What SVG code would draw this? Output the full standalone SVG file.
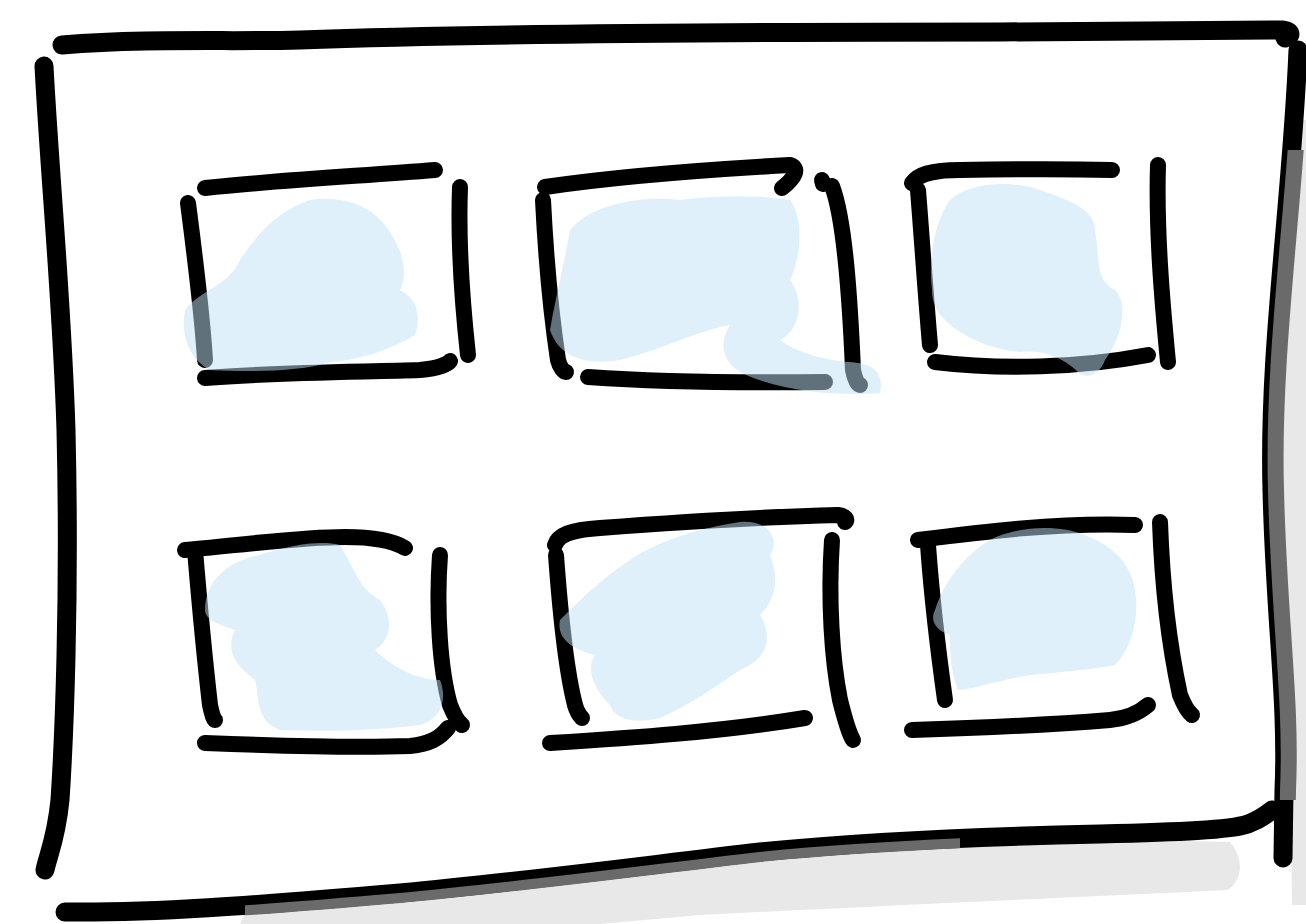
<svg xmlns="http://www.w3.org/2000/svg" width="1306" height="924" viewBox="0 0 1306 924">
<style>
.ln{fill:none;stroke:#000;stroke-width:16;stroke-linecap:round;stroke-linejoin:round}
.fr{stroke-width:19}
.blob{fill:#bfe1f5;opacity:0.5}
.sh1{fill:#e8e8e8}
.sh2{fill:none;stroke:#6a6a6a}
</style>
<defs>
<clipPath id="clipR"><rect x="1240" y="150" width="66" height="650"/></clipPath>
<clipPath id="clipB"><rect x="245" y="780" width="715" height="144"/></clipPath>
</defs>
<rect width="1306" height="924" fill="#fff"/>
<g id="shadow-light">
<path class="sh1" d="M1296,120 C1290,250 1278,380 1280,500 C1282,650 1292,800 1292,905 L1306,905 L1306,120 Z"/>
<path class="sh1" d="M245,912 C400,898 620,872 800,852 C950,840 1100,838 1230,842 C1245,860 1242,880 1228,890 C1100,896 900,905 700,915 L600,924 L240,924 Z"/>
</g>
<g id="frame">
<path class="ln fr" d="M62,45 C150,38 230,42 300,40 C500,33 800,32 1000,32 C1150,31 1250,30 1282,30 C1292,31 1292,36 1285,38"/>
<path class="ln fr" d="M44,66 C50,180 62,300 66,430 C70,600 64,740 60,800 C56,840 48,855 45,870"/>
<path class="ln fr" d="M1298,50 C1292,200 1268,350 1272,490 C1275,620 1288,700 1284,790 L1283,858"/>
<path class="ln fr" d="M65,912 C150,913 250,906 400,893 C520,882 640,866 760,852 C880,840 1000,836 1100,834 C1180,832 1230,830 1248,824 C1258,820 1266,815 1272,810"/>
</g>
<g id="shadow-dark">
<path class="sh2" stroke-width="16" clip-path="url(#clipR)" transform="translate(4,0)" d="M1298,50 C1292,200 1268,350 1272,490 C1275,620 1288,700 1284,790 L1283,858"/>
<path class="sh2" stroke-width="10" clip-path="url(#clipB)" transform="translate(0,5)" d="M65,912 C150,913 250,906 400,893 C520,882 640,866 760,852 C880,840 1000,836 1100,834"/>
</g>
<g id="box1">
<path class="ln" d="M205,188 C280,180 360,176 435,170"/>
<path class="ln" d="M188,203 C194,250 202,310 205,360"/>
<path class="ln" d="M460,187 C458,240 462,300 468,355"/>
<path class="ln" d="M205,378 C280,372 360,372 420,370 C440,368 448,364 450,361"/>
<path class="blob" d="M185,310 C200,290 230,285 240,260 C260,230 280,210 310,200 C340,195 370,205 385,225 C400,245 410,270 400,290 C420,300 420,320 415,335 C390,350 360,360 330,362 C300,372 250,372 210,370 C190,360 180,335 185,310 Z"/>
</g>
<g id="box2">
<path class="ln" d="M545,187 C620,176 700,170 790,165 C800,168 795,178 782,188"/>
<path class="ln" d="M543,200 C546,260 552,320 558,360 C560,368 564,372 566,372"/>
<path class="ln" d="M822,180 L823,184"/>
<path class="ln" d="M832,186 C845,220 850,300 853,370 C855,380 858,385 860,385"/>
<path class="ln" d="M588,377 C660,382 740,383 825,382"/>
<path class="blob" d="M550,330 C555,300 565,260 570,230 C590,205 640,195 680,200 C720,195 760,195 790,200 C805,220 800,260 790,280 C805,300 800,330 780,340 C800,355 830,360 845,362 C870,362 885,370 880,393 C840,396 780,392 740,372 C720,360 720,340 730,325 C700,330 660,350 620,360 C590,365 560,360 550,330 Z"/>
</g>
<g id="box3">
<path class="ln" d="M912,183 C918,175 930,170 960,170 C1020,169 1070,169 1112,170"/>
<path class="ln" d="M918,190 C922,240 926,300 930,345"/>
<path class="ln" d="M1158,165 C1156,230 1162,300 1168,362"/>
<path class="ln" d="M935,362 C1000,370 1080,368 1148,355"/>
<path class="blob" d="M932,290 C928,260 935,220 950,200 C970,182 1010,180 1040,190 C1070,200 1095,210 1095,230 C1100,260 1095,280 1115,290 C1130,305 1120,340 1105,360 C1100,375 1085,380 1078,372 C1060,355 1040,350 1020,352 C990,350 960,335 945,320 C935,310 932,300 932,290 Z"/>
</g>
<g id="box4">
<path class="ln" d="M185,550 C240,545 300,537 345,537 C375,537 395,542 405,548"/>
<path class="ln" d="M195,550 C200,610 206,670 210,705 C212,715 214,720 215,720"/>
<path class="ln" d="M440,555 C436,610 440,670 450,705 C454,715 458,722 462,725"/>
<path class="ln" d="M205,743 C280,746 360,748 410,746 C430,744 440,738 448,728"/>
<path class="blob" d="M205,610 C205,580 230,560 260,555 C290,545 320,540 340,545 C355,570 360,590 380,600 C395,620 390,640 375,650 C395,670 420,680 440,680 C448,700 440,720 420,725 C380,730 330,732 280,730 C255,720 260,700 255,680 C235,665 225,650 235,630 C220,625 205,620 205,610 Z"/>
</g>
<g id="box5">
<path class="ln" d="M555,545 C558,535 570,530 600,528 C680,522 760,517 838,515 C846,516 848,520 845,522"/>
<path class="ln" d="M556,555 C560,610 566,670 575,705 C577,712 580,716 582,718"/>
<path class="ln" d="M832,540 C828,600 832,660 840,700 C845,720 850,735 853,740"/>
<path class="ln" d="M550,743 C630,738 720,732 805,718"/>
<path class="blob" d="M560,620 C580,600 600,580 630,560 C660,540 700,528 740,522 C770,520 780,540 770,555 C780,580 775,600 760,615 C775,640 765,660 740,670 C710,690 690,705 660,718 C635,724 615,720 610,705 C595,690 585,670 595,655 C575,650 556,640 560,620 Z"/>
</g>
<g id="box6">
<path class="ln" d="M918,540 C980,532 1060,522 1135,525"/>
<path class="ln" d="M928,545 C932,600 938,650 945,700"/>
<path class="ln" d="M1160,522 C1162,580 1168,640 1180,695 C1184,705 1188,712 1192,715"/>
<path class="ln" d="M912,730 C980,728 1060,724 1110,720 C1130,718 1140,712 1148,705"/>
<path class="blob" d="M935,610 C945,580 965,555 990,540 C1020,525 1060,525 1085,535 C1110,545 1130,560 1135,590 C1140,620 1130,650 1115,665 C1090,670 1060,672 1030,675 C1000,680 970,690 958,690 C950,670 950,650 950,635 C935,630 930,620 935,610 Z"/>
</g>
</svg>
